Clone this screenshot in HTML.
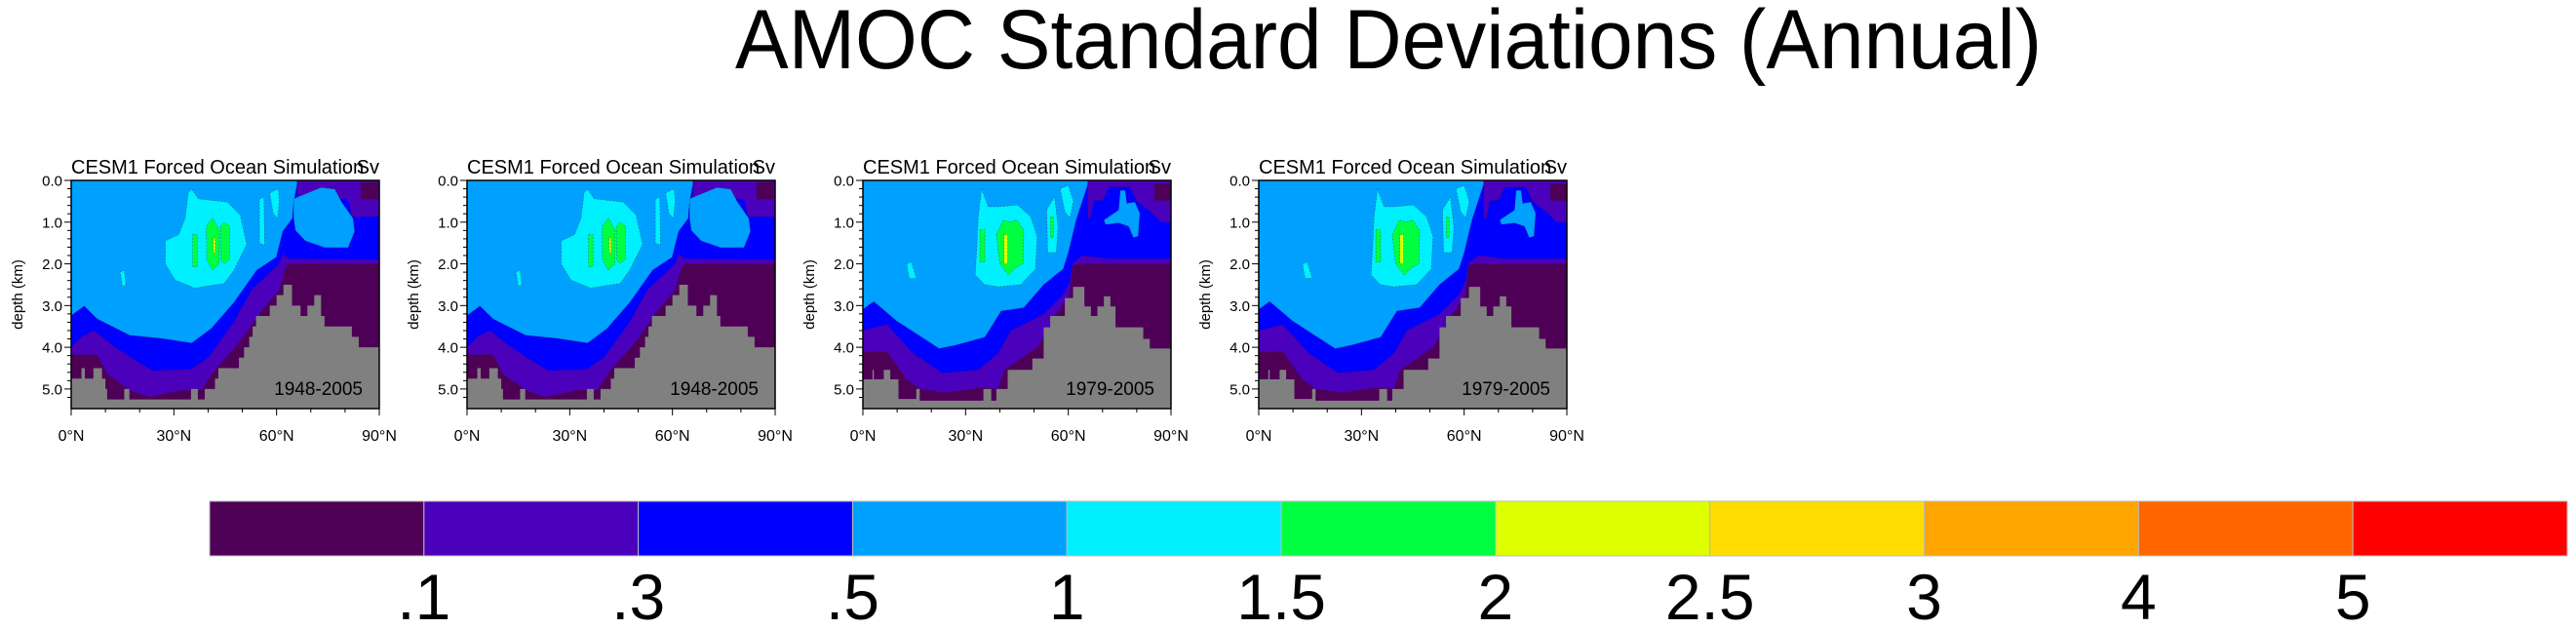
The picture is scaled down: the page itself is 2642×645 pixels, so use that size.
<!DOCTYPE html>
<html><head><meta charset="utf-8">
<style>
html,body{margin:0;padding:0;background:#fff;}
svg{display:block;font-family:"Liberation Sans",Arial,sans-serif;}
</style></head>
<body>
<svg id="fig" width="2642" height="645" viewBox="0 0 2642 645" xmlns="http://www.w3.org/2000/svg">
<text x="754" y="70" font-size="86" textLength="1340" lengthAdjust="spacingAndGlyphs">AMOC Standard Deviations (Annual)</text>
<g id="panels"></g>
<g id="cbar"></g>
</svg>
<script>
// ---- colour levels ----
const levelColors = ["#4d0055","#4b00bb","#0000ff","#00a0ff","#00f0ff","#00ff40","#ddff00","#ffdd00","#ffa500","#ff6600","#ff0000"];
const levelLabels = [".1",".3",".5","1","1.5","2","2.5","3","4","5"];
// ---- panel meta ----
const panelPeriods = ["1948-2005","1948-2005","1979-2005","1979-2005"];
const latTicks = [0,30,60,90];
const depthTicks = [0,1,2,3,4,5];
// ---- panel A data (1948-2005): [lat, depth] pairs ----
const A_blueTop = [0,3.24, 3.8,3.01, 7.6,3.32, 17.1,3.71, 26.6,3.79, 35.2,3.9, 40.9,3.55, 47.5,2.93, 54.2,2.15, 59.9,1.84, 61.8,1.22, 64.6,0.91, 65,0.52, 66,0.09, 66,0];
const A_purpleTop = [0,4.0, 3,3.75, 6.7,3.6, 12,3.95, 19,4.33, 23.8,4.56, 35,4.53, 40,4.25, 47.5,3.4, 52.7,2.62, 60.8,2.0, 61.8,1.77, 63.6,1.88, 90,1.9];
const A_darkTop = [0,4.18, 7.6,4.18, 10.5,4.64, 17.1,5.03, 22.8,5.19, 32.3,5.03, 38,5.03, 41.8,4.56, 49.4,3.86, 56,3.09, 60.8,2.62, 62.7,2.08, 63.6,2.0, 90,2.0];
const A_purpleUR = [66,0, 90,0, 90,0.87, 82,0.87, 81,0.45, 72,0.45, 71,0.55, 66,0.55];
const A_darkUR = [84.6,0.05, 89.5,0.05, 89.5,0.45, 84.6,0.45];
const A_lightBlob = [65,0.91, 65,0.44, 73,0.17, 77,0.21, 79,0.52, 82.3,0.91, 82.8,1.22, 80.9,1.61, 74.1,1.61, 68.4,1.45, 65.5,1.2];
const A_cyan = [
 [35.2,0.21, 37.1,0.44, 45.6,0.52, 49.4,0.83, 51.3,1.53, 47.5,2.15, 44.7,2.47, 36.1,2.58, 30.4,2.39, 27.5,2.0, 27.5,1.45, 31.4,1.3, 33.3,0.91, 34.2,0.29],
 [55,0.45, 56.3,0.4, 56.5,1.55, 55,1.5],
 [58,0.3, 60.5,0.2, 60.8,0.5, 60.3,0.9, 59,0.8],
 [14.3,2.2, 15.5,2.15, 16,2.5, 15,2.55]
];
const A_green = [
 [35.5,1.3, 36.8,1.3, 36.8,2.07, 35.5,2.07],
 [39.5,1.1, 41.3,0.9, 43.3,1.2, 43.2,2.0, 41.3,2.15, 39.6,1.9],
 [43.6,1.1, 44.7,1.0, 46.3,1.1, 46.2,1.9, 44.7,2.0, 43.7,1.9]
];
const A_yellow = [[41.5,1.38, 42.1,1.38, 42.1,1.73, 41.5,1.73]];
const A_bathLat = [0,3,4,6.5,9,10,10.5,15.5,17,35,37,39,42,43,49,50.5,52,53,54,58,60,62,64.5,67,69,71,73,74,82,84,90];
const A_bathDep = [4.75,4.5,4.75,4.5,4.75,5.0,5.25,5.0,5.25,5.0,5.25,5.0,4.75,4.5,4.25,4.0,3.75,3.5,3.25,3.0,2.75,2.5,3.0,3.25,3.0,2.75,3.25,3.5,3.75,4.0];
// ---- panel B data (1979-2005) ----
const B_blueTop = [0,3.09, 3.2,2.9, 9.9,3.37, 22.3,4.03, 27,3.95, 35.6,3.76, 40.4,3.13, 47,3.05, 52.8,2.5, 58.5,2.12, 60,1.73, 62.3,0.95, 65.7,0.09, 65.7,0];
const B_purpleTop = [0,3.6, 7,3.45, 14.7,4.15, 23.3,4.62, 33.7,4.54, 39.5,4.15, 43.3,3.6, 52.8,3.21, 58.5,2.74, 60.4,2.43, 61.4,1.96, 64.3,1.8, 71.9,1.88, 90,1.88];
const B_darkTop = [0,4.11, 7,4.11, 12.8,4.77, 16.6,5.0, 24.2,5.09, 34.7,4.97, 39.5,5.0, 41.4,4.54, 51,4.0, 56.6,3.21, 60.4,2.74, 61.4,2.04, 63.3,2.0, 90,2.0];
const B_purpleUR = [65.7,0, 90,0, 90,1.0, 87,1.0, 84,0.75, 80,0.5, 78,0.16, 72,0.16, 70,0.48, 67.5,0.48, 66.5,0.9, 65.7,0.9];
const B_darkUR = [85.2,0.09, 90,0.09, 90,0.48, 85.2,0.48];
const B_lightBlob = [70.4,0.95, 74.7,0.71, 75.2,0.24, 76.6,0.24, 77.1,0.55, 79.5,0.52, 80.9,0.79, 80.4,1.34, 79,1.37, 77.6,1.1, 74.7,1.02, 70.9,1.06];
const B_cyan = [
 [34.7,0.2, 36.6,0.63, 39.5,0.63, 45.2,0.59, 49,0.87, 50.9,1.34, 50.4,2.12, 46.1,2.5, 39.5,2.55, 35.6,2.5, 32.8,2.27, 33.3,1.57, 33.7,0.87],
 [53.7,0.7, 56,0.4, 57,1.1, 56.5,1.73, 54,1.73],
 [57.6,0.2, 60,0.12, 61.5,0.5, 60.5,0.9, 59,0.75],
 [12.8,2.0, 14.2,1.96, 15.6,2.35, 13.5,2.35]
];
const B_green = [
 [39,1.3, 41,0.95, 43,1.0, 45,0.95, 47,1.2, 46.8,2.0, 44.5,2.1, 42.5,2.27, 40,2.0],
 [34.2,1.18, 35.6,1.18, 35.6,1.96, 34.2,1.96],
 [54.8,0.87, 55.6,0.87, 55.6,1.37, 54.8,1.37]
];
const B_yellow = [[41.2,1.3, 42.3,1.3, 42.3,2.0, 41.2,2.0]];
const B_bathLat = [0,2.8,3.2,6.1,8.0,10.4,15.6,16.6,35.2,37.5,39,42.3,49.5,52.8,54.7,59,61.4,64.7,66.6,68.5,70.4,72.3,73.8,81.9,83.8,90];
const B_bathDep = [4.77,4.54,4.77,4.54,4.77,5.24,5.0,5.28,5.0,5.28,5.0,4.54,4.27,3.52,3.25,2.82,2.55,3.02,3.25,3.02,2.78,3.02,3.52,3.8,4.03];

const panelLefts = [73,479,885,1291];
const PW = 316, PT = 185, PB = 419, DMAX = 5.47;
const NS = "http://www.w3.org/2000/svg";
function mk(tag, attrs, parent){const e=document.createElementNS(NS,tag);for(const k in attrs)e.setAttribute(k,attrs[k]);if(parent)parent.appendChild(e);return e;}

const panelsG = document.getElementById('panels');
panelLefts.forEach((L,pi)=>{
  const useA = pi<2;
  const D = useA ? {blue:A_blueTop,purple:A_purpleTop,dark:A_darkTop,pUR:A_purpleUR,dUR:A_darkUR,blob:A_lightBlob,cyan:A_cyan,green:A_green,yellow:A_yellow,bl:A_bathLat,bd:A_bathDep}
                 : {blue:B_blueTop,purple:B_purpleTop,dark:B_darkTop,pUR:B_purpleUR,dUR:B_darkUR,blob:B_lightBlob,cyan:B_cyan,green:B_green,yellow:B_yellow,bl:B_bathLat,bd:B_bathDep};
  const xs = lat => L + lat/90*PW;
  const ys = d => PT + d/DMAX*(PB-PT);
  const pts = arr => {let s=[];for(let i=0;i<arr.length;i+=2)s.push(xs(arr[i]).toFixed(1)+","+ys(arr[i+1]).toFixed(1));return s;};
  const g = mk('g',{},panelsG);
  
  
  const cp = mk('clipPath',{id:'cp'+pi},g);
  mk('rect',{x:L,y:PT,width:PW,height:PB-PT},cp);
  const body = mk('g',{'clip-path':'url(#cp'+pi+')'},g);
  const bg = mk('rect',{x:L,y:PT,width:PW,height:PB-PT,fill:levelColors[3]},body);
  
  
  const region = (arr,col,name,close) => {
    let p = pts(arr);
    if(close) p = p.concat([xs(90)+","+ys(DMAX+0.1), xs(0)+","+ys(DMAX+0.1)]);
    const e = mk('polygon',{points:p.join(' '),fill:col,stroke:'#222','stroke-width':0.5,'stroke-dasharray':'2,1.5','stroke-opacity':0.6},body);
    
    
  };
  region(D.blue.concat([90,-0.1, 90,DMAX+0.1]), levelColors[2], 'contour-0.5', true);
  region(D.purple, levelColors[1], 'contour-0.3', true);
  region(D.dark, levelColors[0], 'contour-0.1', true);
  region(D.pUR, levelColors[1], 'contour-0.3-north', false);
  region(D.dUR, levelColors[0], 'contour-0.1-north', false);
  region(D.blob, levelColors[3], 'contour-1-north', false);
  D.cyan.forEach(c=>region(c, levelColors[4], 'contour-1.5', false));
  D.green.forEach(c=>region(c, levelColors[5], 'contour-2', false));
  D.yellow.forEach(c=>region(c, levelColors[6], 'contour-2.5', false));
  // bathymetry
  let bp = [xs(0)+","+ys(DMAX+0.1)];
  for(let i=0;i<D.bd.length;i++){bp.push(xs(D.bl[i])+","+ys(D.bd[i]));bp.push(xs(D.bl[i+1])+","+ys(D.bd[i]));}
  bp.push(xs(90)+","+ys(DMAX+0.1));
  const bath = mk('polygon',{points:bp.join(' '),fill:'#808080'},body);
  
  
  const fr = mk('rect',{x:L,y:PT,width:PW,height:PB-PT,fill:'none',stroke:'#000','stroke-width':1.5},g);
  
  
  for(let d=0; d<=5.4; d+=0.2){
    const major = Math.abs(d-Math.round(d))<1e-6;
    mk('line',{x1:L,x2:L-(major?7:4),y1:ys(d),y2:ys(d),stroke:'#000','stroke-width':1},g);
  }
  depthTicks.forEach(d=>{
    const t = mk('text',{x:L-9,y:ys(d)+5.5,'font-size':15,'text-anchor':'end'},g);
    t.textContent = d.toFixed(1);
    
    
  });
  for(let a=0;a<=90;a+=10){
    const major = a%30===0;
    mk('line',{x1:xs(a),x2:xs(a),y1:PB,y2:PB+(major?7:4),stroke:'#000','stroke-width':1},g);
  }
  latTicks.forEach(a=>{
    const t = mk('text',{x:xs(a),y:452,'font-size':16,'text-anchor':'middle'},g);
    t.textContent = a+"°N";
    
    
  });
  const yt = mk('text',{x:0,y:0,'font-size':15,'text-anchor':'middle',transform:`translate(${L-50},${(PT+PB)/2}) rotate(-90)`},g);
  yt.textContent = "depth (km)";
  
  
  const tt = mk('text',{x:L,y:178,'font-size':20},g);
  tt.textContent = "CESM1 Forced Ocean Simulation";
  
  
  const sv = mk('text',{x:L+PW,y:178,'font-size':20,'text-anchor':'end'},g);
  sv.textContent = "Sv";
  
  
  const pe = mk('text',{x:L+299,y:405,'font-size':19,'text-anchor':'end'},g);
  pe.textContent = panelPeriods[pi];
  
  
});

const cb = document.getElementById('cbar');
const CBL=215, CBR=2633, CBT=514, CBB=570;
const segW = (CBR-CBL)/levelColors.length;
levelColors.forEach((c,i)=>{
  const r = mk('rect',{x:CBL+i*segW,y:CBT,width:segW,height:CBB-CBT,fill:c,stroke:'#bbb','stroke-width':1},cb);
  
  
});
levelLabels.forEach((s,i)=>{
  const t = mk('text',{x:CBL+(i+1)*segW,y:635,'font-size':66,'text-anchor':'middle'},cb);
  t.textContent = s;
  
  
});
</script>
</body></html>
